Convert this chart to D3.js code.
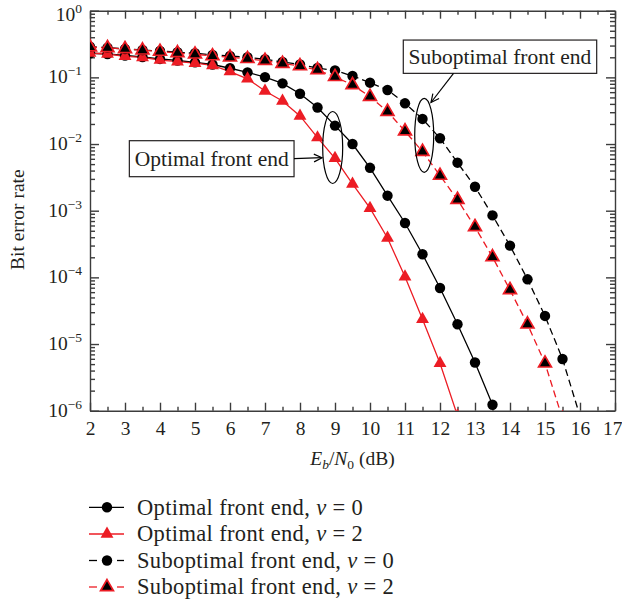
<!DOCTYPE html>
<html>
<head>
<meta charset="utf-8">
<script src="https://cdn.jsdelivr.net/npm/d3@7"></script>
<style>
  body { margin: 0; background: #fff; }
  svg text { font-family: "Liberation Serif", "Times New Roman", serif; fill: #231f20; }
</style>
</head>
<body>
<svg id="chart" width="622" height="600"></svg>
<script>
// Eb/N0 grid (dB) and bit error rates for each receiver configuration
const snrOptNu0 = [2, 2.5, 3, 3.5, 4, 4.5, 5, 5.5, 6, 6.5, 7, 7.5, 8, 8.5, 9, 9.5, 10, 10.5, 11, 11.5, 12, 12.5, 13, 13.5];
const berOptNu0 = [0.230, 0.224, 0.213, 0.202, 0.189, 0.179, 0.168, 0.156, 0.137, 0.119, 0.101, 0.0814, 0.0567, 0.0353, 0.0189, 0.0100, 0.00440, 0.00168, 6.54e-4, 2.22e-4, 6.93e-5, 1.98e-5, 5.29e-6, 1.23e-6];

const snrOptNu2 = [2, 2.5, 3, 3.5, 4, 4.5, 5, 5.5, 6, 6.5, 7, 7.5, 8, 8.5, 9, 9.5, 10, 10.5, 11, 11.5, 12, 12.5];
const berOptNu2 = [0.232, 0.224, 0.207, 0.199, 0.182, 0.172, 0.163, 0.151, 0.122, 0.0952, 0.0625, 0.0442, 0.0264, 0.0125, 0.00611, 0.00252, 0.00109, 3.9e-4, 1.02e-4, 2.35e-5, 5.14e-6, 8.4e-7];

const snrSubNu0 = [2, 2.5, 3, 3.5, 4, 4.5, 5, 5.5, 6, 6.5, 7, 7.5, 8, 8.5, 9, 9.5, 10, 10.5, 11, 11.5, 12, 12.5, 13, 13.5, 14, 14.5, 15, 15.5, 16];
const berSubNu0 = [0.288, 0.279, 0.267, 0.257, 0.249, 0.238, 0.230, 0.217, 0.209, 0.200, 0.187, 0.170, 0.156, 0.138, 0.127, 0.105, 0.0832, 0.0647, 0.0408, 0.0238, 0.0122, 0.00525, 0.00229, 8.5e-4, 2.99e-4, 9.35e-5, 2.64e-5, 5.97e-6, 8.3e-7];

const snrSubNu2 = [2, 2.5, 3, 3.5, 4, 4.5, 5, 5.5, 6, 6.5, 7, 7.5, 8, 8.5, 9, 9.5, 10, 10.5, 11, 11.5, 12, 12.5, 13, 13.5, 14, 14.5, 15, 15.5];
const berSubNu2 = [0.284, 0.276, 0.267, 0.255, 0.244, 0.232, 0.222, 0.209, 0.200, 0.190, 0.178, 0.161, 0.148, 0.129, 0.102, 0.0770, 0.0514, 0.0306, 0.0156, 0.0077, 0.00337, 0.00146, 5.7e-4, 2.02e-4, 6.47e-5, 1.98e-5, 5.14e-6, 7.6e-7];

// Axis ticks
const xMajorTicks = [2, 3, 4, 5, 6, 7, 8, 9, 10, 11, 12, 13, 14, 15, 16, 17];
const xMinorTicks = [2.5, 3.5, 4.5, 5.5, 6.5, 7.5, 8.5, 9.5, 10.5, 11.5, 12.5, 13.5, 14.5, 15.5, 16.5];
const yDecadeExponents = [0, -1, -2, -3, -4, -5, -6];

// Legend / series labels: front end and the nu value
const seriesFrontEnds = ["Optimal front end", "Optimal front end", "Suboptimal front end", "Suboptimal front end"];
const seriesNu = [0, 2, 0, 2];

// Appearance of each series
const RED = "#ec1c24", INK = "#000000", AXIS = "#3c3c3c";
const seriesStyle = [
  { line: INK, dash: null,  marker: "circle",   fill: INK, stroke: INK },
  { line: RED, dash: null,  marker: "triangle", fill: RED, stroke: RED },
  { line: INK, dash: "7,4", marker: "circle",   fill: INK, stroke: INK },
  { line: RED, dash: "7,4", marker: "triangle", fill: INK, stroke: RED }
];

const series = [
  { x: snrOptNu0, y: berOptNu0 },
  { x: snrOptNu2, y: berOptNu2 },
  { x: snrSubNu0, y: berSubNu0 },
  { x: snrSubNu2, y: berSubNu2 }
].map((s, i) => ({
  frontEnd: seriesFrontEnds[i],
  nu: seriesNu[i],
  style: seriesStyle[i],
  points: s.x.map((v, j) => ({ x: v, y: s.y[j] }))
}));

const svg = d3.select("#chart");
const plot = { left: 90, right: 615, top: 10.7, bottom: 410.7 };

const x = d3.scaleLinear().domain([2, 17]).range([plot.left, plot.right]);
const y = d3.scaleLog().domain([1e-6, 1]).range([plot.bottom, plot.top]);

// ---- axes ----
const axisStroke = g => {
  g.selectAll("path, line").attr("stroke", AXIS).attr("stroke-width", 1.4);
};

// bottom: major with labels, minor half-steps
const gBottom = svg.append("g").attr("transform", `translate(0,${plot.bottom})`);
gBottom.call(d3.axisBottom(x).tickValues(xMajorTicks).tickSizeInner(-8).tickSizeOuter(0)
  .tickPadding(10).tickFormat(d3.format("d")));
gBottom.selectAll(".tick text").attr("font-size", 19.5).attr("fill", "#231f20")
  .attr("font-family", "Liberation Serif, serif");
// keep the last label inside the canvas edge
gBottom.selectAll(".tick text").filter(d => d === 17).attr("text-anchor", "end").attr("x", 7);
gBottom.append("g").call(d3.axisBottom(x).tickValues(xMinorTicks).tickSize(-4).tickFormat(""))
  .select(".domain").remove();
axisStroke(gBottom);

// top: tick marks only
const gTop = svg.append("g").attr("transform", `translate(0,${plot.top})`);
gTop.call(d3.axisTop(x).tickValues(xMajorTicks).tickSizeInner(-8).tickSizeOuter(0).tickFormat(""));
gTop.append("g").call(d3.axisTop(x).tickValues(xMinorTicks).tickSize(-4).tickFormat(""))
  .select(".domain").remove();
axisStroke(gTop);

// log minor ticks (2..9 within each decade)
const minorY = y.ticks().filter(v => {
  const m = v / Math.pow(10, Math.floor(Math.log10(v) + 1e-9));
  return Math.round(m) !== 1;
});
const majorY = yDecadeExponents.map(e => Math.pow(10, e));

const gLeft = svg.append("g").attr("transform", `translate(${plot.left},0)`);
gLeft.call(d3.axisLeft(y).tickValues(majorY).tickSizeInner(-9).tickSizeOuter(0).tickPadding(8));

// decade labels as 10 with superscript exponent
gLeft.selectAll(".tick text").each(function (d) {
  const t = d3.select(this);
  const e = Math.round(Math.log10(d));
  t.text(null).attr("font-size", 19.5).attr("fill", "#231f20")
    .attr("font-family", "Liberation Serif, serif")
    .attr("dy", e === 0 ? "0.48em" : "0.28em");
  t.append("tspan").text("10");
  t.append("tspan").attr("font-size", 13.5).attr("dy", -8)
    .text(e === 0 ? "0" : "\u2212" + Math.abs(e));
});
gLeft.append("g").call(d3.axisLeft(y).tickValues(minorY).tickSize(-5).tickFormat(""))
  .select(".domain").remove();
axisStroke(gLeft);

const gRight = svg.append("g").attr("transform", `translate(${plot.right},0)`);
gRight.call(d3.axisRight(y).tickValues(majorY).tickSizeInner(-9).tickSizeOuter(0).tickFormat(""));
gRight.append("g").call(d3.axisRight(y).tickValues(minorY).tickSize(-5).tickFormat(""))
  .select(".domain").remove();
axisStroke(gRight);

// ---- axis titles ----
svg.append("text")
  .attr("transform", `translate(24,${(plot.top + plot.bottom) / 2 + 9}) rotate(-90)`)
  .attr("text-anchor", "middle")
  .attr("font-size", 19.5)
  .text("Bit error rate");

const xTitle = svg.append("text")
  .attr("x", (plot.left + plot.right) / 2)
  .attr("y", 465)
  .attr("text-anchor", "middle")
  .attr("font-size", 19.5);
xTitle.append("tspan").attr("font-style", "italic").text("E");
xTitle.append("tspan").attr("font-style", "italic").attr("font-size", 13.5).attr("dy", 4).text("b");
xTitle.append("tspan").attr("dy", -4).text("/");
xTitle.append("tspan").attr("font-style", "italic").text("N");
xTitle.append("tspan").attr("font-size", 13.5).attr("dy", 4).text("0");
xTitle.append("tspan").attr("dy", -4).text(" (dB)");

// ---- series ----
svg.append("defs").append("clipPath").attr("id", "plotClip")
  .append("rect")
  .attr("x", plot.left).attr("y", plot.top)
  .attr("width", plot.right - plot.left).attr("height", plot.bottom - plot.top);

const line = d3.line().x(d => x(d.x)).y(d => y(d.y));
const tri = d3.symbol().type(d3.symbolTriangle).size(72)();

function drawMarker(sel, style) {
  if (style.marker === "circle") {
    sel.append("circle").attr("r", 5.2).attr("fill", style.fill).attr("stroke", "none");
  } else {
    sel.append("path").attr("d", tri).attr("fill", style.fill)
      .attr("stroke", style.stroke).attr("stroke-width", style.fill === style.stroke ? 0 : 1.7)
      .attr("stroke-linejoin", "miter");
  }
}

const gSeries = svg.append("g").attr("clip-path", "url(#plotClip)");
// lines first, markers on top, in drawing order
series.forEach(s => {
  gSeries.append("path")
    .datum(s.points)
    .attr("fill", "none")
    .attr("stroke", s.style.line)
    .attr("stroke-width", 1.3)
    .attr("stroke-dasharray", s.style.dash)
    .attr("d", line);
});
series.forEach(s => {
  gSeries.append("g").selectAll("g")
    .data(s.points)
    .join("g")
    .attr("transform", d => `translate(${x(d.x)},${y(d.y)})`)
    .each(function () { drawMarker(d3.select(this), s.style); });
});

// ---- annotations ----
const gAnn = svg.append("g");

function labelBox(text, cx, cy, w, h) {
  const px = x(cx), py = y(cy);
  gAnn.append("rect")
    .attr("x", px - w / 2).attr("y", py - h / 2)
    .attr("width", w).attr("height", h)
    .attr("fill", "#fff").attr("stroke", "#231f20").attr("stroke-width", 1.2);
  gAnn.append("text")
    .attr("x", px).attr("y", py)
    .attr("dy", "0.33em")
    .attr("text-anchor", "middle")
    .attr("font-size", 21.5)
    .text(text);
  return { left: px - w / 2, right: px + w / 2, top: py - h / 2, bottom: py + h / 2, cx: px, cy: py };
}

function ellipse(cx, cy, rx, ry) {
  gAnn.append("ellipse")
    .attr("cx", x(cx)).attr("cy", y(cy))
    .attr("rx", rx).attr("ry", ry)
    .attr("fill", "none").attr("stroke", "#000").attr("stroke-width", 1.2);
}

function arrow(x1, y1, x2, y2) {
  const a = Math.atan2(y2 - y1, x2 - x1), L = 9, spread = 0.45;
  gAnn.append("line")
    .attr("x1", x1).attr("y1", y1).attr("x2", x2).attr("y2", y2)
    .attr("stroke", "#000").attr("stroke-width", 1.2);
  gAnn.append("path")
    .attr("d", `M${x2 - L * Math.cos(a - spread)},${y2 - L * Math.sin(a - spread)}L${x2},${y2}L${x2 - L * Math.cos(a + spread)},${y2 - L * Math.sin(a + spread)}`)
    .attr("fill", "none").attr("stroke", "#000").attr("stroke-width", 1.2);
}

ellipse(8.934, Math.pow(10, -2.052), 10, 36);
ellipse(11.549, Math.pow(10, -1.869), 9.5, 37);

const optBox = labelBox("Optimal front end", 5.477, Math.pow(10, -2.22), 164.7, 36);
arrow(optBox.right, optBox.cy, x(8.63), optBox.cy - 1);

const subBox = labelBox("Suboptimal front end", 13.714, Math.pow(10, -0.69), 193.4, 33.3);
arrow(x(12.386), subBox.bottom, x(11.743), y(Math.pow(10, -1.377)));

// ---- legend ----
const legendRows = [507.3, 534, 560.5, 587];
const gLeg = svg.append("g");
series.forEach((s, i) => {
  const row = gLeg.append("g").attr("transform", `translate(0,${legendRows[i]})`);
  if (s.style.dash) {
    row.append("line").attr("x1", 89).attr("x2", 97).attr("stroke", s.style.line).attr("stroke-width", 1.3);
    row.append("line").attr("x1", 117).attr("x2", 124).attr("stroke", s.style.line).attr("stroke-width", 1.3);
  } else {
    row.append("line").attr("x1", 89).attr("x2", 124).attr("stroke", s.style.line).attr("stroke-width", 1.3);
  }
  const m = row.append("g").attr("transform", "translate(107,0)");
  drawMarker(m, s.style);
  const t = row.append("text").attr("x", 137).attr("dy", "0.33em")
    .attr("font-size", 22.5).attr("letter-spacing", 0.35);
  t.append("tspan").text(s.frontEnd + ", ");
  t.append("tspan").attr("font-style", "italic").text("\u03BD");
  t.append("tspan").text(" = " + s.nu);
});
</script>
</body>
</html>
